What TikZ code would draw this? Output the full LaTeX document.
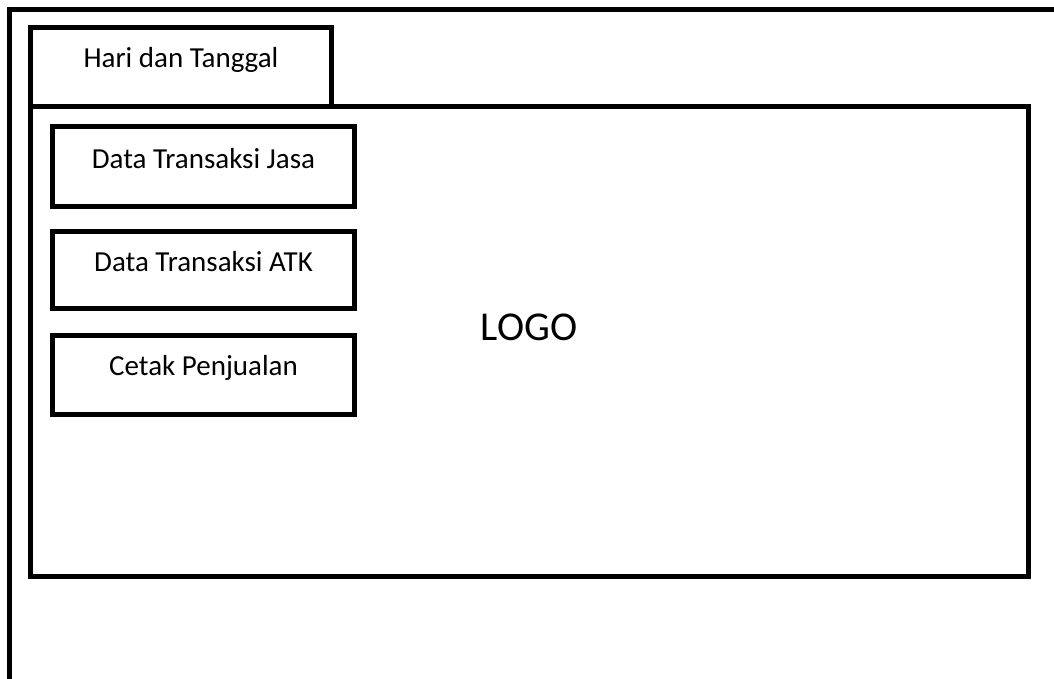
\documentclass[tikz,border=0pt]{standalone}
\usepackage{fontspec}
\setmainfont{Carlito}
\tikzset{
  frame/.style={draw=black, line width=5pt, inner sep=0pt, outer sep=0pt, rectangle},
  lbl/.style={font=\fontsize{29}{34}\selectfont, anchor=base, inner sep=0pt},
}
\begin{document}
\begin{tikzpicture}[x=1pt,y=-1pt]
\useasboundingbox (0,0) rectangle (1054,679);
\clip (0,0) rectangle (1054,679);
\fill[white] (0,0) rectangle (1054,679);
% outer window frame (extends beyond the picture)
\node[frame, minimum width=1070pt, minimum height=700pt, anchor=north west] (win) at (9.5,9.5) {};
% tab
\node[frame, minimum width=301pt, minimum height=79pt, anchor=north west] (tab) at (30.5,28) {};
\node[lbl] (tabtxt) at (181,68) {Hari dan Tanggal};
% main panel
\node[frame, minimum width=998pt, minimum height=469pt, anchor=north west] (main) at (30.5,107) {};
% buttons
\node[frame, minimum width=302pt, minimum height=79.5pt, anchor=north west] (b1) at (52.5,126.5) {};
\node[frame, minimum width=302pt, minimum height=77pt, anchor=north west] (b2) at (52.5,231) {};
\node[frame, minimum width=302pt, minimum height=79pt, anchor=north west] (b3) at (52.5,335.5) {};
\node[lbl] (t1) at (203.5,168.5) {Data Transaksi Jasa};
\node[lbl] (t2) at (203.5,271) {Data Transaksi ATK};
\node[lbl] (t3) at (203.5,375) {Cetak Penjualan};
% logo
\node[font=\fontsize{41}{48}\selectfont, anchor=base, inner sep=0pt] (logo) at (529,340) {LOGO};
\end{tikzpicture}
\end{document}
